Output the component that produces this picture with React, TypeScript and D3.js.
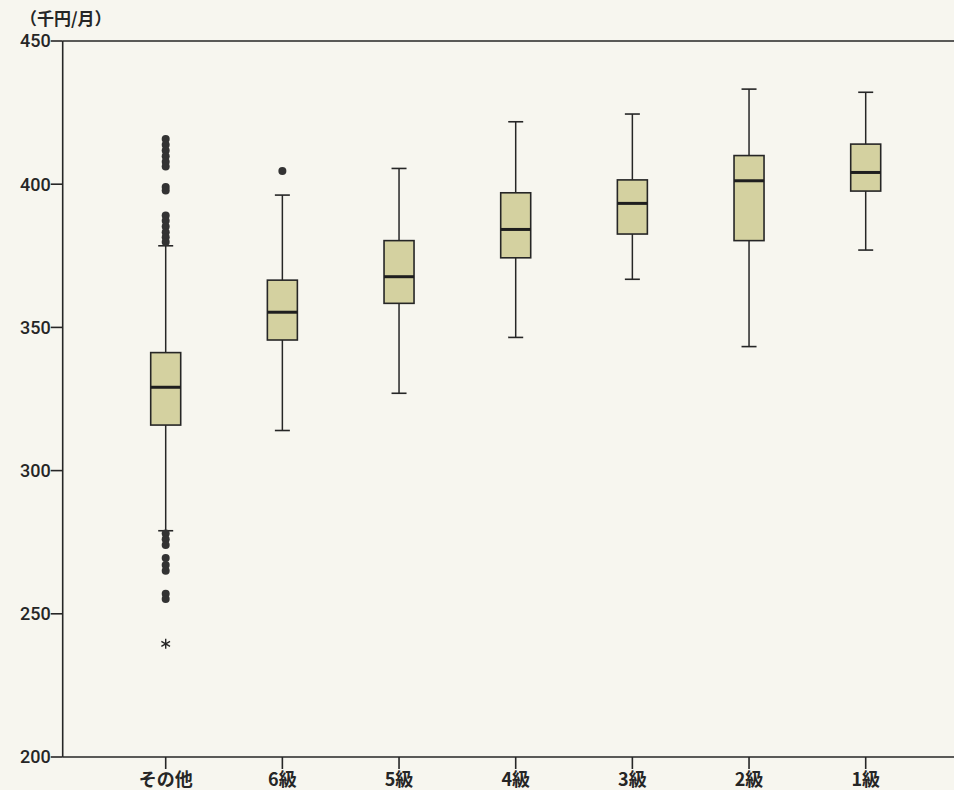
import React from "react";
import * as d3 from "d3";

const categories = ["その他", "6級", "5級", "4級", "3級", "2級", "1級"];
const whiskerLow = [279, 314, 327, 346.5, 366.8, 343.3, 377.0];
const q1 = [315.9, 345.6, 358.4, 374.3, 382.6, 380.3, 397.6];
const median = [329.1, 355.3, 367.7, 384.2, 393.3, 401.2, 404.1];
const q3 = [341.2, 366.5, 380.3, 397.0, 401.5, 410.0, 414.0];
const whiskerHigh = [378.5, 396.2, 405.5, 421.8, 424.5, 433.2, 432.1];

const outlierCats = [
  "その他", "その他", "その他", "その他", "その他", "その他",
  "その他", "その他",
  "その他", "その他", "その他", "その他", "その他", "その他",
  "その他", "その他", "その他",
  "その他", "その他", "その他",
  "その他", "その他",
  "6級",
];
const outlierValues = [
  415.8, 413.8, 411.8, 409.8, 407.8, 406.2,
  399.0, 397.8,
  389.1, 387.2, 385.2, 383.2, 381.5, 379.8,
  278, 276, 274,
  269.5, 267, 265,
  257, 255.2,
  404.6,
];
const extremeCats = ["その他"];
const extremeValues = [239.5];

const yTicks = [200, 250, 300, 350, 400, 450];

const W = 954;
const H = 790;

export default function App() {
  const y = d3.scaleLinear().domain([200, 450]).range([757, 41]);
  const x = d3.scalePoint<string>().domain(categories).range([165.7, 865.7]);
  const axisX = 62.7;
  const boxW = 30;
  const capW = 15;
  const ink = "#262626";
  const starType: any = (d3 as any).symbolAsterisk || d3.symbolCross;
  const starPath = d3.symbol().type(starType).size(70)() || "";

  return (
    <svg
      width={W}
      height={H}
      style={{ display: "block", position: "absolute", left: 0, top: 0 }}
    >
      <rect x={0} y={0} width={W} height={H} fill="#f7f6ef" />
      {/* frame */}
      <line x1={axisX} x2={W} y1={y(450)} y2={y(450)} stroke={ink} strokeWidth={1.6} />
      <line x1={axisX} x2={W} y1={y(200)} y2={y(200)} stroke={ink} strokeWidth={1.6} />
      <line x1={axisX} x2={axisX} y1={y(450)} y2={y(200)} stroke={ink} strokeWidth={1.6} />

      {/* y ticks */}
      {yTicks.map((t) => (
        <g key={t}>
          <line x1={axisX - 12} x2={axisX} y1={y(t)} y2={y(t)} stroke={ink} strokeWidth={1.6} />
          <text
            x={axisX - 12}
            y={y(t)}
            dy="0.36em"
            textAnchor="end"
            fontFamily="Roboto, 'Liberation Sans', Arial, sans-serif"
            fontSize={18}
            fontWeight={500}
            fill={ink}
          >
            {t}
          </text>
        </g>
      ))}

      {/* x ticks */}
      {categories.map((c) => (
        <g key={c}>
          <line x1={x(c)!} x2={x(c)!} y1={y(200)} y2={y(200) + 12} stroke={ink} strokeWidth={1.6} />
          <text
            x={x(c)!}
            y={786}
            textAnchor="middle"
            fontFamily="'Noto Sans CJK JP', sans-serif"
            fontSize={18}
            fontWeight={700}
            fill={ink}
          >
            {c}
          </text>
        </g>
      ))}

      {/* unit label */}
      <text
        x={20}
        y={25}
        fontFamily="'Noto Sans CJK JP', sans-serif"
        fontSize={17}
        fontWeight={700}
        fill={ink}
      >
        （千円/月）
      </text>

      {/* boxes */}
      {categories.map((c, i) => {
        const cx = x(c)!;
        return (
          <g key={c}>
            <line x1={cx} x2={cx} y1={y(whiskerHigh[i])} y2={y(q3[i])} stroke={ink} strokeWidth={1.5} />
            <line x1={cx} x2={cx} y1={y(q1[i])} y2={y(whiskerLow[i])} stroke={ink} strokeWidth={1.5} />
            <line x1={cx - capW / 2} x2={cx + capW / 2} y1={y(whiskerHigh[i])} y2={y(whiskerHigh[i])} stroke={ink} strokeWidth={1.6} />
            <line x1={cx - capW / 2} x2={cx + capW / 2} y1={y(whiskerLow[i])} y2={y(whiskerLow[i])} stroke={ink} strokeWidth={1.6} />
            <rect
              x={cx - boxW / 2}
              y={y(q3[i])}
              width={boxW}
              height={y(q1[i]) - y(q3[i])}
              fill="#d4d1a0"
              stroke={ink}
              strokeWidth={1.6}
            />
            <line x1={cx - boxW / 2} x2={cx + boxW / 2} y1={y(median[i])} y2={y(median[i])} stroke="#1e1e1e" strokeWidth={3} />
          </g>
        );
      })}

      {/* outliers */}
      {outlierValues.map((v, i) => (
        <circle key={i} cx={x(outlierCats[i])!} cy={y(v)} r={4} fill="#333" />
      ))}
      {extremeValues.map((v, i) => (
        <path
          key={i}
          d={starPath}
          transform={`translate(${x(extremeCats[i])!},${y(v)})`}
          fill="none"
          stroke={ink}
          strokeWidth={1.4}
        />
      ))}
    </svg>
  );
}
